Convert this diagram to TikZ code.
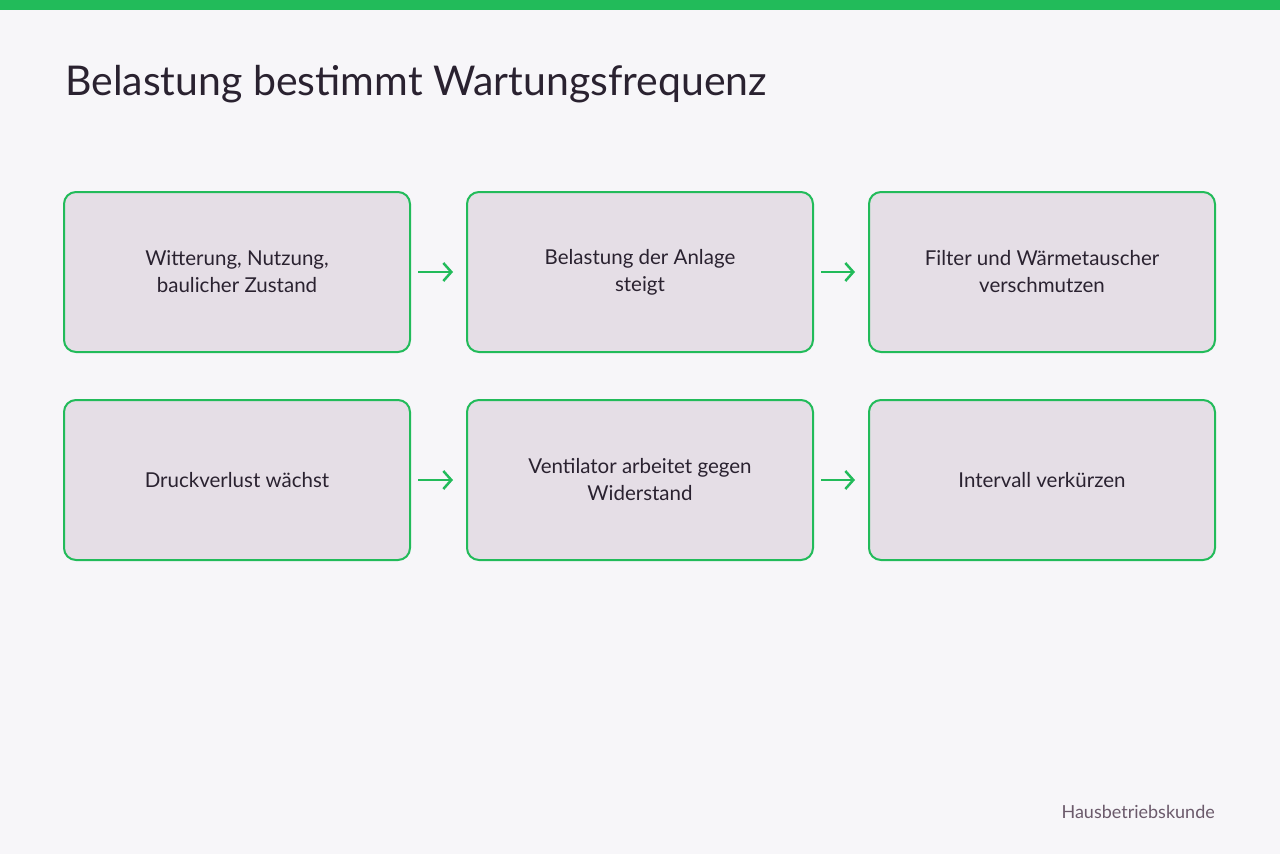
\documentclass[tikz,border=0pt]{standalone}
\usepackage{fontspec}
\setmainfont{Lato}
\usetikzlibrary{arrows.meta}
\definecolor{bg}{HTML}{F7F6F9}
\definecolor{grn}{HTML}{22BB5A}
\definecolor{boxf}{HTML}{E5DEE6}
\definecolor{txt}{HTML}{2A2230}
\definecolor{foot}{HTML}{6B5A6B}
\begin{document}
\begin{tikzpicture}[x=1pt,y=-1pt,
  box/.style={draw=grn,line width=2pt,fill=boxf,rounded corners=12pt,minimum width=346pt,minimum height=160pt,align=center,text=txt,font=\fontsize{20.5}{27}\selectfont,inner sep=0pt},
  arr/.style={draw=grn,line width=2.5pt,-{Straight Barb[length=8pt,width=18pt]}}]
\fill[bg] (0,0) rectangle (1280,854);
\useasboundingbox (0,0) rectangle (1280,854);
\fill[grn] (0,0) rectangle (1280,10);
\node[anchor=base west,text=txt,font=\fontsize{41}{48}\selectfont,inner sep=0pt] (title) at (65,95) {Belastung bestimmt Wartungsfrequenz};
\node[box] (a) at (237,272) {Witterung, Nutzung,\\baulicher Zustand};
\node[box] (b) at (640,272) {Belastung der Anlage\\steigt};
\node[box] (c) at (1042,272) {Filter und Wärmetauscher\\verschmutzen};
\node[box] (d) at (237,480) {Druckverlust wächst};
\node[box] (e) at (640,480) {Ventilator arbeitet gegen\\Widerstand};
\node[box] (f) at (1042,480) {Intervall verkürzen};
\draw[arr] ([xshift=7pt]a.east) -- ([xshift=-13pt]b.west);
\draw[arr] ([xshift=7pt]b.east) -- ([xshift=-13pt]c.west);
\draw[arr] ([xshift=7pt]d.east) -- ([xshift=-13pt]e.west);
\draw[arr] ([xshift=7pt]e.east) -- ([xshift=-13pt]f.west);
\node[anchor=base east,text=foot,font=\fontsize{18}{22}\selectfont,inner sep=0pt] (ft) at (1215,818) {Hausbetriebskunde};
\end{tikzpicture}
\end{document}
